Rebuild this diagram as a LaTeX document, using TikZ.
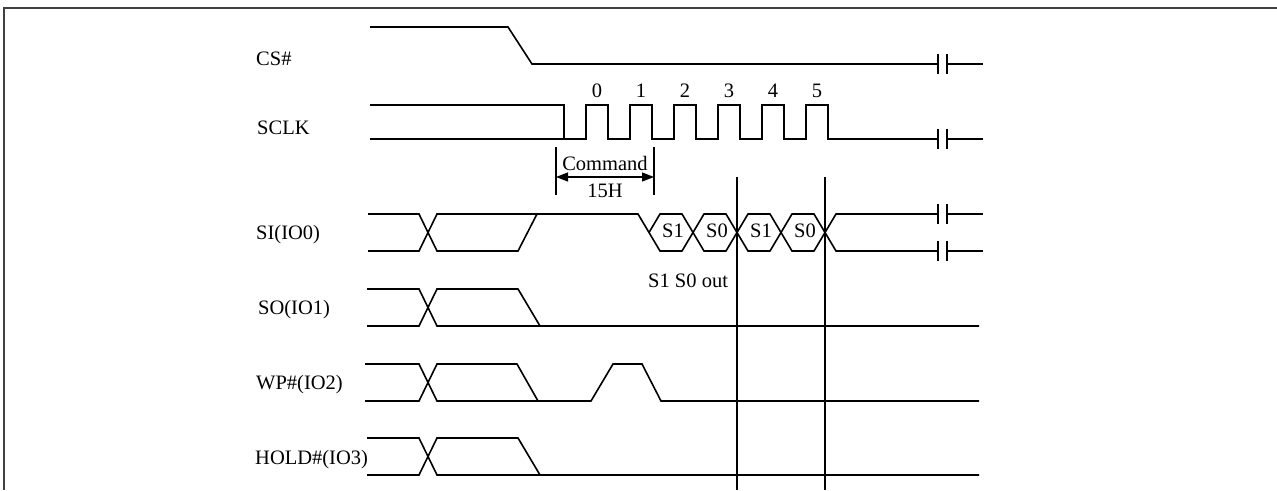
\documentclass[tikz,border=0pt]{standalone}
\usepackage{fontspec}
\setmainfont{Liberation Serif}
\usetikzlibrary{arrows.meta}

\begin{document}
\begin{tikzpicture}[
    x=1pt, y=-1pt,
    wave/.style={line width=1.6pt, line join=miter},
    sig/.style={anchor=base west, inner sep=0pt, font=\fontsize{20.5}{24}\selectfont},
    lbl/.style={anchor=base, inner sep=0pt, font=\fontsize{20.5}{24}\selectfont},
    span/.style={{Triangle[length=12pt,width=9pt]}-{Triangle[length=12pt,width=9pt]}, line width=1.1pt}
]
    \useasboundingbox (0,0) rectangle (1277,490);
    \draw[line width=1.6pt, black!75] (4,490) -- (4,8) -- (1277,8);

    \node[sig] (cs) at (256,65) {CS\#};
    \node[sig] (sclk) at (257,134) {SCLK};
    \node[sig] (si) at (256,239) {SI(IO0)};
    \node[sig] (so) at (258,314) {SO(IO1)};
    \node[sig] (wp) at (256,389) {WP\#(IO2)};
    \node[sig] (hold) at (255,464) {HOLD\#(IO3)};

    % CS#
    \draw[wave] (370,27) -- (508,27) -- (532,64) -- (938,64);

    % SCLK
    \draw[wave] (370,139) -- (564,139);
    \draw[wave] (370,105) -- (564,105) -- (564,139)
        \foreach \k in {0,...,5} { -- ++(22,0) -- ++(0,-34) -- ++(22,0) -- ++(0,34) } -- (938,139);
    \foreach \k in {0,...,5}
        \node[lbl] (n\k) at (597+44*\k,97) {\k};

    % Command
    \draw[wave] (556,147) -- (556,195);
    \draw[wave] (654,147) -- (654,195);
    \coordinate (cmdL) at (556,177);
    \coordinate (cmdR) at (654,177);
    \draw[span] (cmdL) -- (cmdR);
    \node[lbl] (cmd) at (605,170) {Command};
    \node[lbl] (code) at (605,197) {15H};

    % SI
    \draw[wave] (368,214) -- (419,214) -- (437,251) -- (518,251) -- (537,214) -- (638,214) -- (649,232.5);
    \draw[wave] (368,251) -- (419,251) -- (437,214) -- (537,214);
    \foreach \a/\t [count=\i] in {649/S1, 693/S0, 737/S1, 781/S0} {
        \draw[wave] (\a,232.5) -- (\a+11,214) -- (\a+33,214) -- (\a+44,232.5) -- (\a+33,251) -- (\a+11,251) -- cycle;
        \node[lbl] (h\i) at (\a+24,237.5) {\t};
    }
    \draw[wave] (825,232.5) -- (836,214) -- (938,214);
    \draw[wave] (825,232.5) -- (836,251) -- (938,251);
    \node[sig] (out) at (648,287) {S1 S0 out};

    % SO
    \draw[wave] (367,289) -- (419,289) -- (437,326) -- (979,326);
    \draw[wave] (367,326) -- (419,326) -- (437,289) -- (518,289) -- (540,326);

    % WP#
    \draw[wave] (365,364) -- (419,364) -- (437,401) -- (591,401) -- (613,364) -- (642,364) -- (661,401) -- (979,401);
    \draw[wave] (365,401) -- (419,401) -- (437,364) -- (517,364) -- (538,401);

    % HOLD#
    \draw[wave] (367,438) -- (419,438) -- (437,475) -- (979,475);
    \draw[wave] (367,475) -- (419,475) -- (437,438) -- (518,438) -- (540,475);

    \draw[wave] (737,177) -- (737,490);
    \draw[wave] (825,177) -- (825,490);

    \foreach \y in {64,139,214,251}
        \draw[wave] (938,\y-10) -- (938,\y+10) (947,\y-10) -- (947,\y+10) (947,\y) -- (983,\y);
\end{tikzpicture}
\end{document}
